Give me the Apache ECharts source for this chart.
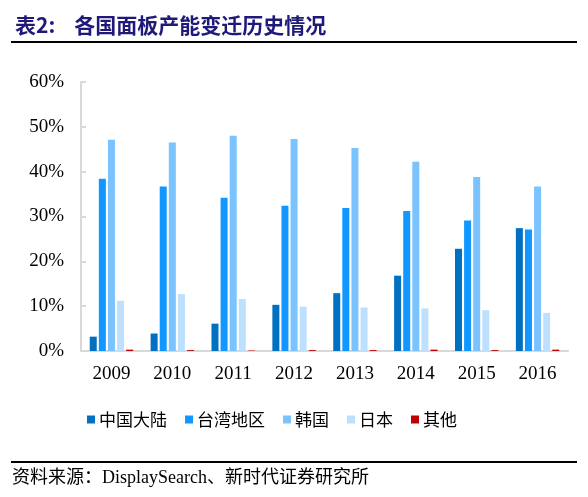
<!DOCTYPE html>
<html>
<head>
    <meta charset="UTF-8">
    <title>各国面板产能变迁历史情况</title>
    <script src="https://cdn.jsdelivr.net/npm/echarts@6/dist/echarts.min.js"></script>
</head>
<body style="margin:0;background:#fff;">
<div id="chart" style="width:588px;height:497px;"></div>
<script type="text/javascript">
    // 年份
    var years = ['2009', '2010', '2011', '2012', '2013', '2014', '2015', '2016'];
    // 各地区产能占比（%）
    var china = [3.2, 3.9, 6.1, 10.3, 12.9, 16.8, 22.8, 27.4];
    var taiwan = [38.4, 36.7, 34.2, 32.4, 31.9, 31.2, 29.1, 27.1];
    var korea = [47.1, 46.5, 48.0, 47.3, 45.3, 42.2, 38.8, 36.7];
    var japan = [11.2, 12.7, 11.6, 9.9, 9.7, 9.5, 9.1, 8.5];
    var others = [0.3, 0.2, 0.1, 0.2, 0.2, 0.3, 0.2, 0.3];
    var names = ['中国大陆', '台湾地区', '韩国', '日本', '其他'];
    var colors = ['#0070C0', '#1197FF', '#7AC3FF', '#BDE0FF', '#C00000'];

    var serif = 'Liberation Serif, "Times New Roman", "Noto Sans CJK SC", serif';
    var cjk = '"Noto Sans CJK SC", sans-serif';

    function bar(name, data) {
        return {
            name: name,
            type: 'bar',
            data: data,
            barWidth: 7,
            barGap: '30%',
            animation: false
        };
    }

    var myChart = echarts.init(document.getElementById('chart'));
    myChart.setOption({
        color: colors,
        title: {
            text: '表2:    各国面板产能变迁历史情况',
            left: 10,
            top: 10,
            textStyle: {
                color: '#1F1A7A',
                fontSize: 21,
                fontWeight: 'bold',
                fontFamily: '"Noto Sans CJK SC", serif'
            }
        },
        graphic: [
            {
                type: 'line',
                shape: {x1: 11, y1: 42, x2: 577, y2: 42},
                style: {stroke: '#000', lineWidth: 2}
            },
            {
                type: 'line',
                shape: {x1: 11, y1: 462, x2: 577, y2: 462},
                style: {stroke: '#000', lineWidth: 2}
            },
            {
                type: 'text',
                left: 12,
                top: 469,
                style: {
                    text: '资料来源：DisplaySearch、新时代证券研究所',
                    fontSize: 18,
                    fontFamily: serif,
                    fill: '#000'
                }
            }
        ],
        legend: {
            data: names,
            top: 406,
            left: 82,
            itemWidth: 8,
            itemHeight: 8,
            itemGap: 18,
            icon: 'rect',
            textStyle: {
                fontSize: 17,
                fontFamily: cjk,
                color: '#000',
                padding: [0, 0, 0, -1]
            }
        },
        grid: {
            left: 81,
            right: 20,
            top: 82,
            bottom: 146
        },
        xAxis: {
            type: 'category',
            data: years,
            axisLine: {lineStyle: {color: '#D9D9D9', width: 2}},
            axisTick: {show: false},
            axisLabel: {
                color: '#000',
                fontSize: 19,
                fontFamily: serif,
                margin: 14
            }
        },
        yAxis: {
            type: 'value',
            min: 0,
            max: 60,
            interval: 10,
            axisLine: {show: true, lineStyle: {color: '#D9D9D9', width: 2}},
            axisTick: {show: true, inside: true, length: 5, lineStyle: {color: '#D9D9D9', width: 2}},
            splitLine: {show: false},
            axisLabel: {
                color: '#000',
                fontSize: 19,
                fontFamily: serif,
                margin: 17,
                formatter: '{value}%'
            }
        },
        series: [
            bar(names[0], china),
            bar(names[1], taiwan),
            bar(names[2], korea),
            bar(names[3], japan),
            bar(names[4], others)
        ]
    });
</script>
</body>
</html>
